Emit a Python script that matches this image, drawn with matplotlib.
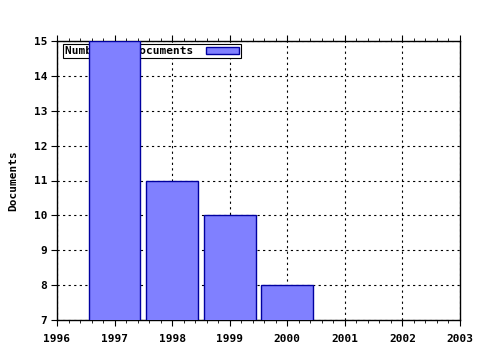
import numpy as np
import matplotlib
matplotlib.use("Agg")
import matplotlib.pyplot as plt
from matplotlib.ticker import MultipleLocator

# data
years = [1997, 1998, 1999, 2000]
documents = [15, 11, 10, 8]
series_label = "Number of documents"

plt.rcParams["font.family"] = "DejaVu Sans Mono"
plt.rcParams["font.weight"] = "bold"
plt.rcParams["axes.labelweight"] = "bold"
plt.rcParams["font.size"] = 8

fig = plt.figure(figsize=(4.8, 3.5), dpi=100)
ax = fig.add_axes([57 / 480, 30 / 350, 403 / 480, 279 / 350])

bars = ax.bar(years, documents, width=0.9, color="#8080ff",
              edgecolor="#0000a0", linewidth=1.0, zorder=3,
              label=series_label)

ax.set_xlim(1996, 2003)
ax.set_ylim(7, 15)
ax.xaxis.set_major_locator(MultipleLocator(1))
ax.xaxis.set_minor_locator(MultipleLocator(0.2))
ax.yaxis.set_major_locator(MultipleLocator(1))

ax.grid(True, which="major", color="black", linestyle=(0, (2, 3)),
        linewidth=0.8, zorder=0)
ax.set_axisbelow(True)

ax.tick_params(axis="x", which="major", direction="out", length=4,
               top=True, width=0.8, pad=6)
ax.tick_params(axis="x", which="minor", direction="out", length=2.5,
               top=True, width=0.6)
ax.tick_params(axis="y", which="major", direction="out", length=4,
               width=0.8, pad=3)
for s in ax.spines.values():
    s.set_linewidth(1.0)

ax.set_ylabel("Documents", labelpad=11)

leg = ax.legend(loc="upper left", bbox_to_anchor=(6 / 403, 1 - 3 / 279),
                borderaxespad=0, markerfirst=False, fancybox=False,
                framealpha=1, edgecolor="black", borderpad=0.2,
                handlelength=3.0, handleheight=0.6, handletextpad=1.1)
leg.get_frame().set_linewidth(0.8)
leg.set_zorder(2)

fig.savefig("out.png", dpi=100)
